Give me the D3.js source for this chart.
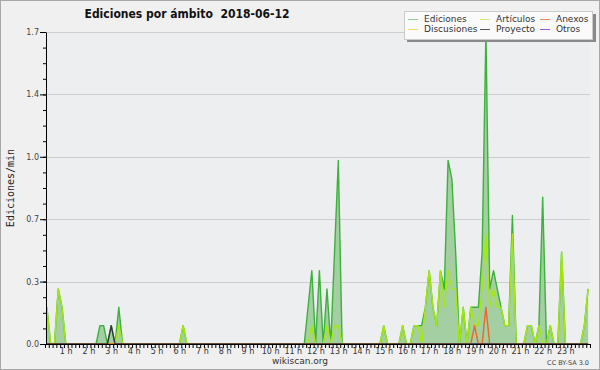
<!DOCTYPE html>
<html><head><meta charset="utf-8">
<script src="https://cdn.jsdelivr.net/npm/d3@7"></script>
<style>body{margin:0;background:#f0f0f0}svg{display:block}</style>
</head><body><svg id="c" width="600" height="370"></svg>
<script>
// 10-minute bins (144 per day), edits per minute
const ediciones = [
 0.2,0,0,0.3,0.2,0,   0,0,0,0,0,0,   0,0,0.1,0.1,0,0.1,   0,0.2,0,0,0,0,
 0,0,0,0,0,0,   0,0,0,0,0,0,   0.1,0,0,0,0,0,   0,0,0,0,0,0,
 0,0,0,0,0,0,   0,0,0,0,0,0,   0,0,0,0,0,0,   0,0,0,0.2,0.4,0,
 0.4,0,0.3,0,0.5,1.0,   0,0,0,0,0,0,   0,0,0,0,0,0.1,   0,0,0,0,0.1,0,
 0,0.1,0.1,0.1,0.2,0.4,   0.2,0.1,0.4,0.3,1.0,0.9,   0.5,0,0.2,0,0.2,0.2,   0.2,0.5,1.7,0.3,0.4,0.3,
 0.2,0.1,0.1,0.7,0,0,   0,0.1,0.1,0,0.1,0.8,   0,0.1,0,0,0.5,0,   0,0,0,0,0.1,0.3
];
const articulos = [
 0.2,0,0,0.3,0.2,0,   0,0,0,0,0,0,   0,0,0,0,0,0,   0,0.1,0,0,0,0,
 0,0,0,0,0,0,   0,0,0,0,0,0,   0.1,0,0,0,0,0,   0,0,0,0,0,0,
 0,0,0,0,0,0,   0,0,0,0,0,0,   0,0,0,0,0,0,   0,0,0,0,0.1,0,
 0,0,0.1,0,0.1,0.1,   0,0,0,0,0,0,   0,0,0,0,0,0.1,   0,0,0,0,0.1,0,
 0,0.1,0.1,0,0.2,0.4,   0.2,0.1,0.4,0.2,0.4,0.3,   0.3,0,0.2,0,0.2,0.1,   0.1,0.3,0.6,0.2,0.3,0.2,
 0.2,0.1,0.1,0.6,0,0,   0,0.1,0.1,0,0.1,0,   0,0.1,0,0,0.5,0,   0,0,0,0,0.1,0.3
];
const proyecto = [
 0,0,0,0,0,0,   0,0,0,0,0,0,   0,0,0,0,0,0.1,   0,0,0,0,0,0,
 0,0,0,0,0,0,   0,0,0,0,0,0,   0,0,0,0,0,0,   0,0,0,0,0,0,
 0,0,0,0,0,0,   0,0,0,0,0,0,   0,0,0,0,0,0,   0,0,0,0,0,0,
 0,0,0,0,0,0,   0,0,0,0,0,0,   0,0,0,0,0,0,   0,0,0,0,0,0,
 0,0,0,0,0,0,   0,0,0,0,0,0,   0,0,0,0,0,0,   0,0,0,0,0,0,
 0,0,0,0,0,0,   0,0,0,0,0,0,   0,0,0,0,0,0,   0,0,0,0,0,0
];
const anexos = [
 0,0,0,0,0,0,   0,0,0,0,0,0,   0,0,0,0,0,0,   0,0,0,0,0,0,
 0,0,0,0,0,0,   0,0,0,0,0,0,   0,0,0,0,0,0,   0,0,0,0,0,0,
 0,0,0,0,0,0,   0,0,0,0,0,0,   0,0,0,0,0,0,   0,0,0,0,0,0,
 0,0,0,0,0,0,   0,0,0,0,0,0,   0,0,0,0,0,0,   0,0,0,0,0,0,
 0,0,0,0,0,0,   0,0,0,0,0,0,   0,0,0,0,0,0,   0,0,0,0,0,0,
 0,0,0,0,0,0,   0,0,0,0,0,0,   0,0,0,0,0,0,   0,0,0,0,0,0
];
anexos[113] = 0.1; anexos[116] = 0.2;
const discusiones = [
 0,0,0,0,0,0,   0,0,0,0,0,0,   0,0,0,0,0,0,   0,0,0,0,0,0,
 0,0,0,0,0,0,   0,0,0,0,0,0,   0,0,0,0,0,0,   0,0,0,0,0,0,
 0,0,0,0,0,0,   0,0,0,0,0,0,   0,0,0,0,0,0,   0,0,0,0,0,0,
 0,0,0,0,0,0,   0,0,0,0,0,0,   0,0,0,0,0,0,   0,0,0,0,0,0,
 0,0,0,0,0,0,   0,0,0,0,0,0,   0,0,0,0,0,0,   0,0,0,0,0,0,
 0,0,0,0,0,0,   0,0,0,0,0,0,   0,0,0,0,0,0,   0,0,0,0,0,0
];
const otros = [
 0,0,0,0,0,0,   0,0,0,0,0,0,   0,0,0,0,0,0,   0,0,0,0,0,0,
 0,0,0,0,0,0,   0,0,0,0,0,0,   0,0,0,0,0,0,   0,0,0,0,0,0,
 0,0,0,0,0,0,   0,0,0,0,0,0,   0,0,0,0,0,0,   0,0,0,0,0,0,
 0,0,0,0,0,0,   0,0,0,0,0,0,   0,0,0,0,0,0,   0,0,0,0,0,0,
 0,0,0,0,0,0,   0,0,0,0,0,0,   0,0,0,0,0,0,   0,0,0,0,0,0,
 0,0,0,0,0,0,   0,0,0,0,0,0,   0,0,0,0,0,0,   0,0,0,0,0,0
];
const yTicks = [0, 0.34, 0.68, 1.02, 1.36, 1.7];
const hourLabels = ["1 h","2 h","3 h","4 h","5 h","6 h","7 h","8 h","9 h","10 h","11 h","12 h",
  "13 h","14 h","15 h","16 h","17 h","18 h","19 h","20 h","21 h","22 h","23 h"];
const legendItems = [
  {name:"Ediciones", color:"#8fd08f"},
  {name:"Discusiones", color:"#eed870"},
  {name:"Artículos", color:"#cdee70"},
  {name:"Proyecto", color:"#555555"},
  {name:"Anexos", color:"#ee8855"},
  {name:"Otros", color:"#9955dd"}
];
const title = "Ediciones por ámbito  2018-06-12";

const svg = d3.select("#c");
svg.append("rect").attr("x",0.5).attr("y",0.5).attr("width",599).attr("height",369)
  .attr("fill","#f0f0f0").attr("stroke","#a8a8a8");

const x = d3.scaleLinear().domain([0,144]).range([45,590]);
const y = d3.scaleLinear().domain([0,1.7]).range([344,32]);
const px = (d,i) => x(i+0.5);

svg.append("rect").attr("x",46).attr("y",y(1.7)).attr("width",590-46).attr("height",y(0)-y(1.7))
  .attr("fill","#edeef0");

svg.append("g").selectAll("line").data(yTicks.slice(1)).join("line")
  .attr("x1",46).attr("x2",590).attr("y1",d=>Math.round(y(d))+0.5).attr("y2",d=>Math.round(y(d))+0.5)
  .attr("stroke","#cdcdcd").attr("stroke-width",1);

const area = d3.area().x(px).y0(y(0)).y1(d=>y(d));
const line = d3.line().x(px).y(d=>y(d));

svg.append("path").datum(ediciones).attr("d",area).attr("fill","#a3cfa3");
const series = [
  {data:discusiones, color:"#e8d040"},
  {data:otros, color:"#8844dd"},
  {data:ediciones, color:"#3db13d"},
  {data:articulos, color:"#a6e80e"},
  {data:anexos, color:"#ee6622"},
  {data:proyecto, color:"#3a3a3a"}
];
svg.append("g").selectAll("path").data(series).join("path")
  .attr("d",d=>line(d.data)).attr("fill","none").attr("stroke",d=>d.color)
  .attr("stroke-width",1.4).attr("stroke-linejoin","round");

// Y axis
const yAxis = svg.append("g").attr("transform","translate(46,0)")
  .call(d3.axisLeft(y).tickValues(yTicks).tickFormat(d3.format(".1f")).tickSize(6).tickPadding(1).tickSizeOuter(0));
const yMinor = [];
for (let k=0;k<=20;k++) yMinor.push(k*0.085);
svg.append("g").attr("transform","translate(46,0)")
  .call(d3.axisLeft(y).tickValues(yMinor).tickFormat("").tickSize(3).tickSizeOuter(0))
  .select(".domain").remove();
yAxis.selectAll("text").attr("font-family","DejaVu Sans").attr("font-size",8).attr("fill","#444");

// X axis
const xAxis = svg.append("g").attr("transform","translate(0,344)")
  .call(d3.axisBottom(x).tickValues(d3.range(0,145)).tickFormat("").tickSize(4).tickSizeOuter(0));
svg.selectAll(".domain").attr("stroke","#000");
svg.selectAll(".tick line").attr("stroke","#000");
svg.append("g").selectAll("text").data(hourLabels).join("text")
  .attr("x",(d,i)=>x((i+1)*6)-1.5).attr("y",354)
  .attr("text-anchor","middle").attr("font-family","DejaVu Sans").attr("font-size",8).attr("fill","#333")
  .text(d=>d);

// Title
svg.append("text").attr("x",187).attr("y",18).attr("text-anchor","middle")
  .attr("font-family","DejaVu Sans").attr("font-weight","bold").attr("font-size",13)
  .attr("textLength",205).attr("lengthAdjust","spacingAndGlyphs")
  .style("white-space","pre").attr("fill","#111").text(title);

// Y label
svg.append("text").attr("transform","translate(14,188) rotate(-90)").attr("text-anchor","middle")
  .attr("font-family","DejaVu Sans Mono").attr("font-size",10).attr("fill","#222").text("Ediciones/min");

// Legend
svg.append("rect").attr("x",407).attr("y",14).attr("width",189).attr("height",28).attr("fill","#8a8a8a");
svg.append("rect").attr("x",404.5).attr("y",11.5).attr("width",188).attr("height",28)
  .attr("fill","#fafafa").attr("stroke","#cccccc");
const colX = [408, 480, 540];
const rowY = [19, 29];
const lg = svg.append("g").selectAll("g").data(legendItems).join("g")
  .attr("transform",(d,i)=>`translate(${colX[Math.floor(i/2)]},${rowY[i%2]})`);
lg.append("line").attr("x1",0).attr("x2",10).attr("y1",0.5).attr("y2",0.5)
  .attr("stroke",d=>d.color).attr("stroke-width",1);
lg.append("text").attr("x",16).attr("y",3.2).attr("font-family","DejaVu Sans").attr("font-size",9)
  .attr("fill","#333").text(d=>d.name);

// Footer
svg.append("text").attr("x",300).attr("y",364).attr("text-anchor","middle")
  .attr("font-family","DejaVu Sans").attr("font-size",9).attr("fill","#333").text("wikiscan.org");
svg.append("text").attr("x",589).attr("y",365).attr("text-anchor","end")
  .attr("font-family","DejaVu Sans").attr("font-size",6.5).attr("fill","#444").text("CC BY-SA 3.0");
</script></body></html>
